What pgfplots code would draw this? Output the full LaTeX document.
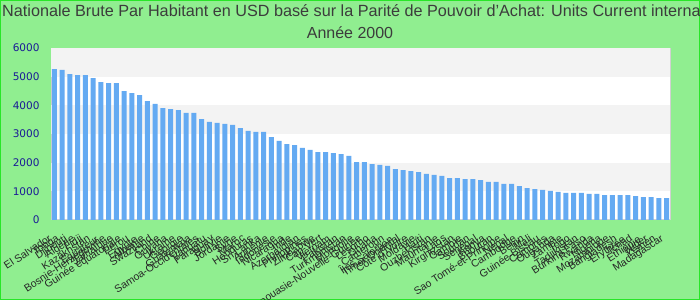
\documentclass[border=0pt]{standalone}
\usepackage{pgfplots}
\pgfplotsset{compat=1.18}
\usepackage{pgfplotstable}
\usepackage{fontspec}
\setmainfont{Liberation Sans}
\newfontfamily\dejavu{DejaVu Sans}
\definecolor{bggreen}{RGB}{144,238,144}
\definecolor{edgegreen}{RGB}{40,230,40}
\definecolor{barblue}{RGB}{100,170,242}
\definecolor{bandgray}{RGB}{243,243,243}
\definecolor{tickblue}{RGB}{26,26,150}
\definecolor{titlegray}{RGB}{60,60,60}
\pgfplotstableread{
i v
0 5267
1 5233
2 5093
3 5058
4 5058
5 4953
6 4814
7 4779
8 4779
9 4500
10 4430
11 4360
12 4151
13 4047
14 3907
15 3872
16 3837
17 3733
18 3733
19 3523
20 3419
21 3384
22 3349
23 3314
24 3209
25 3105
26 3070
27 3070
28 2895
29 2756
30 2651
31 2616
32 2512
33 2442
34 2372
35 2372
36 2337
37 2302
38 2233
39 2023
40 2023
41 1953
42 1919
43 1884
44 1779
45 1744
46 1709
47 1674
48 1605
49 1570
50 1535
51 1465
52 1465
53 1430
54 1430
55 1395
56 1326
57 1326
58 1256
59 1256
60 1186
61 1116
62 1081
63 1047
64 1012
65 977
66 942
67 942
68 942
69 907
70 907
71 872
72 872
73 872
74 872
75 837
76 802
77 802
78 767
79 767
}\gnidata
\begin{document}
\begin{tikzpicture}
\useasboundingbox (0,0) rectangle (700bp,300bp);
\clip (0,0) rectangle (700bp,300bp);
\fill[bggreen] (0,0) rectangle (700bp,300bp);
\draw[edgegreen, line width=2bp] (0,0) rectangle (700bp,300bp);
\node[anchor=base west, inner sep=0pt, text=titlegray, font=\fontsize{16.2bp}{19bp}\selectfont] at (2bp,283bp) {Nationale Brute Par Habitant en USD basé sur la Parité de Pouvoir d'Achat: Units Current international \$};
\node[anchor=base, inner sep=0pt, text=titlegray, font=\fontsize{16bp}{19bp}\selectfont] at (350bp,261.5bp) {Année 2000};
\begin{axis}[
  at={(51bp,80bp)}, anchor=south west, scale only axis,
  width=619bp, height=172bp,
  xmin=-0.45, xmax=79.45, ymin=0, ymax=6000,
  axis background/.style={fill=white},
  axis line style={draw=black!18, line width=1bp},
  ytick={0,1000,...,6000},
  xtick={0,...,79},
  xticklabels={El Salvador,Tonga,Djibouti,Algérie,Fidji,Kazakhstan,Équateur,Bosnie-Herzégovine,Jamaïque,Guinée équatoriale,Pérou,Égypte,Albanie,Swaziland,Chine,Guyana,Ukraine,Géorgie,Guatemala,Samoa-Occidentales,Vanuatu,Paraguay,Bolivie,Jordanie,Syrie,Maroc,Honduras,Sri Lanka,Arménie,Indonésie,Nicaragua,Inde,Azerbaïdjan,Philippines,Zimbabwe,Cap-Vert,Vietnam,Pakistan,Turkménistan,Mongolie,Papouasie-Nouvelle-Guinée,Lesotho,Ghana,Cameroun,Îles Salomon,Timor Oriental,Côte d'Ivoire,Moldavie,Haïti,Ouzbékistan,Mauritanie,Laos,Kirghizstan,Gambie,Soudan,Sénégal,Kenya,Bhoutan,Sao Tomé-et-Principe,Népal,Cambodge,Bénin,Mali,Guinée-Bissau,Comores,Ouganda,Zambie,Togo,Tadjikistan,Burkina Faso,Rwanda,Nigeria,Mozambique,Bangladesh,Érythrée,Tchad,Éthiopie,Niger,Yémen,Madagascar},
  major tick length=0pt,
  tick style={draw=none},
  yticklabel style={font=\dejavu\fontsize{10.5bp}{12bp}\selectfont, text=tickblue, xshift=-8bp},
  xticklabel style={font=\fontsize{10.5bp}{12bp}\selectfont, rotate=33, anchor=north east, text=black!85, inner sep=1bp, xshift=-12bp, yshift=-7bp},
  /pgf/number format/1000 sep={},
  /pgf/number format/assume math mode=true,
  ybar, bar width=0.645, bar shift=0pt,
]
\fill[bandgray] (axis cs:-0.45,1000) rectangle (axis cs:79.45,2000);
\fill[bandgray] (axis cs:-0.45,3000) rectangle (axis cs:79.45,4000);
\fill[bandgray] (axis cs:-0.45,5000) rectangle (axis cs:79.45,6000);
\addplot[fill=barblue, draw=none] table[x=i, y=v] {\gnidata};
\end{axis}
\end{tikzpicture}
\end{document}
